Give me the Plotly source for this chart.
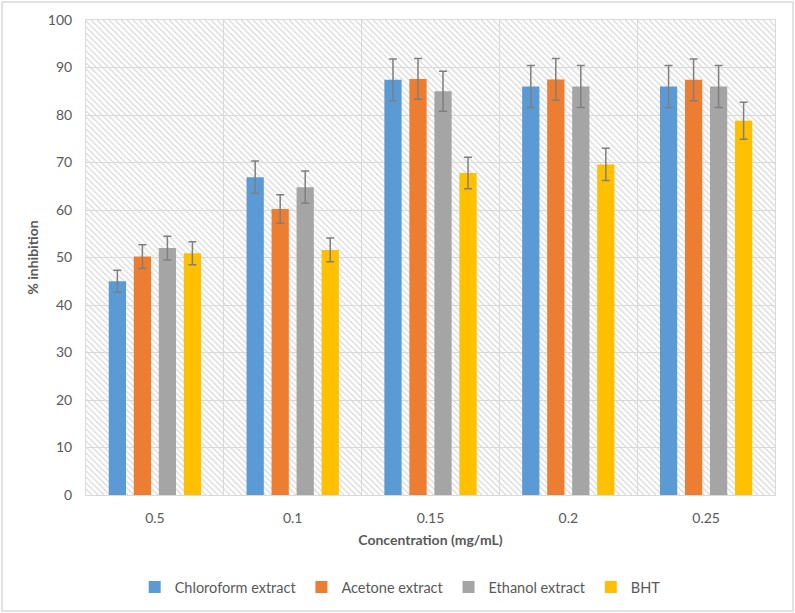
import plotly.graph_objects as go

# ---- data ----
categories = ["0.5", "0.1", "0.15", "0.2", "0.25"]
series_names = ["Chloroform extract", "Acetone extract", "Ethanol extract", "BHT"]
chloroform = [45.0, 66.9, 87.4, 86.0, 86.0]
acetone = [50.2, 60.2, 87.6, 87.5, 87.4]
ethanol = [52.0, 64.8, 85.0, 86.0, 86.0]
bht = [50.9, 51.6, 67.8, 69.6, 78.8]
chloroform_err = [2.3, 3.4, 4.4, 4.4, 4.4]
acetone_err = [2.5, 3.0, 4.3, 4.4, 4.4]
ethanol_err = [2.5, 3.4, 4.2, 4.4, 4.4]
bht_err = [2.4, 2.5, 3.3, 3.4, 3.9]
y_ticks = [0, 10, 20, 30, 40, 50, 60, 70, 80, 90, 100]

colors = ["#5B9BD5", "#ED7D31", "#A5A5A5", "#FFC000"]
values = [chloroform, acetone, ethanol, bht]
errors = [chloroform_err, acetone_err, ethanol_err, bht_err]

W, H = 795, 613
ml, mr, mt, mb = 86, 20, 20, 118
PW, PH = W - ml - mr, H - mt - mb

fig = go.Figure()
for name, vals, errs, col in zip(series_names, values, errors, colors):
    fig.add_trace(go.Bar(
        x=categories, y=vals, name=name, marker=dict(color=col, line=dict(width=0)),
        error_y=dict(type="data", array=errs, visible=True, color="#7F7F7F",
                     thickness=1.5, width=4),
    ))

# hatched plot-area background (decoration)
step = 6
segs = []
c = -PH
while c < PW:
    x0, y0 = c, 0.0
    x1, y1 = c + PH, float(PH)
    if x0 < 0:
        y0 = -x0; x0 = 0.0
    if x1 > PW:
        y1 = PH - (x1 - PW); x1 = float(PW)
    if x1 > x0:
        segs.append(f"M{x0/PW:.5f},{1 - y0/PH:.5f} L{x1/PW:.5f},{1 - y1/PH:.5f}")
    c += step
fig.add_shape(type="path", path=" ".join(segs), xref="paper", yref="paper",
              line=dict(color="#DCDCDC", width=1.3), layer="below")

# outer chart border
fig.add_shape(type="rect", xref="paper", yref="paper",
              x0=(2 - ml) / PW, x1=(793 - ml) / PW,
              y0=(PH + mt - 611) / PH, y1=(PH + mt - 2) / PH,
              line=dict(color="#D9D9D9", width=1.5), fillcolor="rgba(0,0,0,0)", layer="above")

font_fam = "Lato, 'Open Sans', sans-serif"
fig.update_layout(
    width=W, height=H,
    margin=dict(l=ml, r=mr, t=mt, b=mb, autoexpand=False),
    paper_bgcolor="white", plot_bgcolor="white",
    barmode="group", bargap=0.274, bargroupgap=0.31,
    font=dict(family=font_fam, size=14, color="#595959"),
    showlegend=True,
    legend=dict(orientation="h", x=0.456, xanchor="center", y=-0.194, yanchor="middle",
                font=dict(size=14.5, color="#595959"), traceorder="normal"),
    xaxis=dict(
        type="category", tickson="boundaries", showgrid=True, gridcolor="#D9D9D9", gridwidth=1,
        showline=True, linecolor="#D9D9D9", linewidth=1, mirror=True, ticks="", automargin=False,
        tickfont=dict(size=14, color="#595959"), ticklabelstandoff=10,
        title=dict(text="<b>Concentration (mg/mL)</b>", font=dict(size=14, color="#595959"), standoff=10),
    ),
    yaxis=dict(
        range=[0, 100], tickvals=y_ticks, showgrid=True, gridcolor="#D9D9D9", gridwidth=1,
        showline=True, linecolor="#D9D9D9", linewidth=1, mirror=True, ticks="", zeroline=False,
        automargin=False,
        tickfont=dict(size=14, color="#595959"), ticklabelstandoff=10,
        title=dict(text="<b>% inhibition</b>", font=dict(size=14, color="#595959"), standoff=5),
    ),
)

fig.write_html("out.html", config={"displayModeBar": False},
               post_script="document.body.style.margin='0';document.body.style.overflow='hidden';")
